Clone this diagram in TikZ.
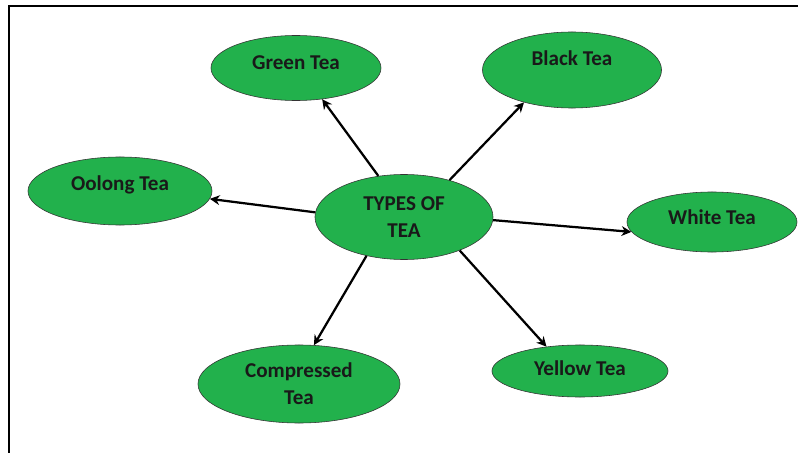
\documentclass[tikz,border=0pt]{standalone}
\usepackage{fontspec}
\setmainfont{Carlito}
\usetikzlibrary{shapes,arrows.meta}
\definecolor{teagreen}{RGB}{34,177,76}
\tikzset{
	teanode/.style={ellipse,draw=black!80,fill=teagreen,inner sep=0pt,align=center,font=\fontsize{15}{19}\selectfont\bfseries,text=black!90},
	lift/.style={text depth=#1},
	diredge/.style={->,>={Stealth[width=7pt,length=7pt]},color=black,line width=1.6pt}
}
\begin{document}
\begin{tikzpicture}[x=0.025cm,y=-0.025cm]
\useasboundingbox (0,0) rectangle (798,453);
%%%% frame
\coordinate (fb) at (9,453);
\coordinate (fl) at (9,6);
\coordinate (fr) at (798,6);
\draw[line width=2pt] (fb) -- (fl) -- (fr);

%%%% centre
\node[teanode,minimum width=4.45cm,minimum height=2.125cm] (tea) at (404,217) {TYPES OF\\TEA};

%%%% kinds
\node[teanode,lift=8pt,minimum width=4.25cm,minimum height=1.625cm] (green) at (296,68) {Green Tea};
\node[teanode,lift=17pt,minimum width=4.475cm,minimum height=1.9cm] (black) at (572,70) {Black Tea};
\node[teanode,lift=11pt,minimum width=4.6cm,minimum height=1.7cm] (oolong) at (120,191) {Oolong Tea};
\node[teanode,lift=7pt,minimum width=4.25cm,minimum height=1.5cm] (white) at (712,222) {White Tea};
\node[teanode,minimum width=5.05cm,minimum height=1.95cm] (compressed) at (299,384) {Compressed\\Tea};
\node[teanode,lift=4pt,minimum width=4.4cm,minimum height=1.3cm] (yellow) at (580,371) {Yellow Tea};

\draw (tea.122) edge[diredge] (green.310)
      (tea.39) edge[diredge] (black.214)
      (tea.177) edge[diredge] (oolong.355)
      (tea.358) edge[diredge] (white.187)
      (tea.226) edge[diredge] (compressed.69)
      (tea.329) edge[diredge] (yellow.144);
\end{tikzpicture}
\end{document}
